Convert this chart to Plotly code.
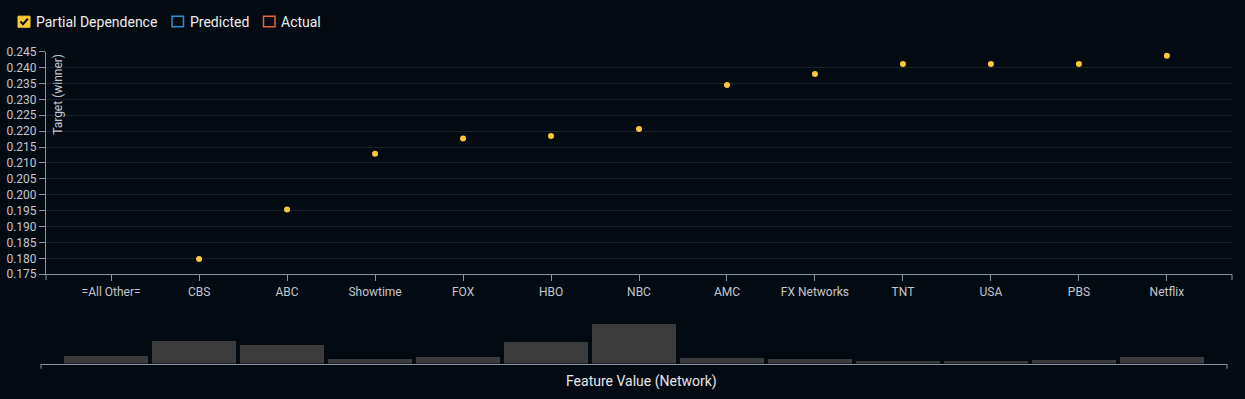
import plotly.graph_objects as go

W, H = 1245, 399

# ---- data ----
categories = ["=All Other=", "CBS", "ABC", "Showtime", "FOX", "HBO", "NBC", "AMC",
              "FX Networks", "TNT", "USA", "PBS", "Netflix"]
pd_categories = ["CBS", "ABC", "Showtime", "FOX", "HBO", "NBC", "AMC",
                 "FX Networks", "TNT", "USA", "PBS", "Netflix"]
pd_values = [0.1798, 0.1954, 0.2129, 0.2177, 0.2185, 0.2207, 0.2345,
             0.2380, 0.2411, 0.2411, 0.2411, 0.2437]
hist_counts = [8, 23, 19, 4.7, 7, 22.7, 41, 6, 5, 3, 2.7, 4, 6.7]
y_ticks = [0.175 + 0.005 * i for i in range(15)]

# ---- styling ----
BG = "#030a12"
AXIS = "#8492a3"
GRID = "#1b2129"
TXT = "#c3c7cc"
YELLOW = "#fbc734"
BAR = "#3b3b3b"
FONT = "Roboto"


def px(x):
    return x / W


def py(y):
    return 1 - y / H


fig = go.Figure()

fig.add_trace(go.Scatter(
    x=pd_categories, y=pd_values, mode="markers",
    marker=dict(color=YELLOW, size=6, line=dict(width=0)),
    xaxis="x", yaxis="y", hoverinfo="x+y", showlegend=False,
))

fig.add_trace(go.Bar(
    x=categories, y=hist_counts, width=0.955,
    marker=dict(color=BAR, line=dict(width=0)),
    xaxis="x2", yaxis="y2", showlegend=False,
))

xr = [-0.74, 12.74]

fig.update_layout(
    width=W, height=H,
    margin=dict(l=0, r=0, t=0, b=0),
    paper_bgcolor=BG, plot_bgcolor=BG,
    font=dict(family=FONT, color=TXT, size=12),
    showlegend=False,
    xaxis=dict(
        domain=[px(46), px(1232)], anchor="y",
        type="category", categoryorder="array", categoryarray=categories,
        range=xr, showgrid=False, zeroline=False,
        showline=True, linecolor=AXIS, linewidth=1,
        ticks="outside", ticklen=6, tickcolor=AXIS, tickwidth=1,
        tickfont=dict(family=FONT, size=12, color=TXT),
    ),
    yaxis=dict(
        domain=[py(277), py(46.3)], anchor="x",
        range=[0.175, 0.245], tickvals=y_ticks, tickformat=".3f",
        showgrid=True, gridcolor=GRID, gridwidth=1, zeroline=False,
        showline=True, linecolor=AXIS, linewidth=1,
        ticks="outside", ticklen=6, tickcolor=AXIS, tickwidth=1,
        tickfont=dict(family=FONT, size=12, color=TXT),
    ),
    xaxis2=dict(
        domain=[px(41), px(1227)], anchor="y2",
        type="category", categoryorder="array", categoryarray=categories,
        range=xr, showgrid=False, zeroline=False, showticklabels=False,
        ticks="", showline=True, linecolor=AXIS, linewidth=1,
    ),
    yaxis2=dict(
        domain=[py(369.5), py(328.5)], anchor="x2",
        range=[0, 41], visible=False,
    ),
    bargap=0,
)

shapes = []
# outer ticks of the main x axis
for xx in (46, 1232):
    shapes.append(dict(type="line", xref="paper", yref="paper",
                       x0=px(xx), x1=px(xx), y0=py(277), y1=py(283),
                       line=dict(color=AXIS, width=1)))
# outer ticks of the histogram axis
for xx in (41, 1227):
    shapes.append(dict(type="line", xref="paper", yref="paper",
                       x0=px(xx), x1=px(xx), y0=py(370), y1=py(375),
                       line=dict(color=AXIS, width=1)))

# legend checkboxes
shapes.append(dict(type="rect", xref="paper", yref="paper",
                   x0=px(18), x1=px(30), y0=py(21), y1=py(9.5),
                   fillcolor=YELLOW, line=dict(color=YELLOW, width=1)))
shapes.append(dict(type="path", xref="paper", yref="paper",
                   path=f"M {px(20.5)} {py(15)} L {px(23)} {py(17.8)} L {px(27.8)} {py(12.2)}",
                   line=dict(color=BG, width=2)))
shapes.append(dict(type="rect", xref="paper", yref="paper",
                   x0=px(172), x1=px(183.5), y0=py(20.5), y1=py(9.5),
                   fillcolor="rgba(0,0,0,0)", line=dict(color="#2b8fd3", width=1.5)))
shapes.append(dict(type="rect", xref="paper", yref="paper",
                   x0=px(263.5), x1=px(275), y0=py(20.5), y1=py(9.5),
                   fillcolor="rgba(0,0,0,0)", line=dict(color="#e8643a", width=1.5)))

annotations = [
    dict(text="Partial Dependence", x=px(34), y=py(15.5), xref="paper", yref="paper",
         xanchor="left", yanchor="middle", showarrow=False,
         font=dict(family=FONT, size=14, color="#eeeeee")),
    dict(text="Predicted", x=px(187.5), y=py(15.5), xref="paper", yref="paper",
         xanchor="left", yanchor="middle", showarrow=False,
         font=dict(family=FONT, size=14, color="#eeeeee")),
    dict(text="Actual", x=px(279), y=py(15.5), xref="paper", yref="paper",
         xanchor="left", yanchor="middle", showarrow=False,
         font=dict(family=FONT, size=14, color="#eeeeee")),
    dict(text="Target (winner)", x=px(58), y=py(47), xref="paper", yref="paper",
         xanchor="center", yanchor="top", textangle=-90, showarrow=False,
         font=dict(family=FONT, size=12, color=TXT)),
    dict(text="Feature Value (Network)", x=px(641), y=py(388), xref="paper", yref="paper",
         xanchor="center", yanchor="middle", showarrow=False,
         font=dict(family=FONT, size=14, color="#e6e6e6")),
]

fig.update_layout(shapes=shapes, annotations=annotations)

post = (
    "var d=document.documentElement, b=document.body;"
    "d.style.margin='0'; d.style.padding='0'; d.style.overflow='hidden';"
    "d.style.height='" + str(H) + "px'; d.style.background='" + BG + "';"
    "b.style.margin='0'; b.style.padding='0'; b.style.overflow='hidden';"
    "b.style.height='" + str(H) + "px'; b.style.background='" + BG + "';"
    "var g=document.getElementById('{plot_id}');"
    "g.style.position='fixed'; g.style.left='0px'; g.style.top='0px';"
)

fig.write_html("out.html", post_script=post,
               config={"displayModeBar": False, "responsive": False})
